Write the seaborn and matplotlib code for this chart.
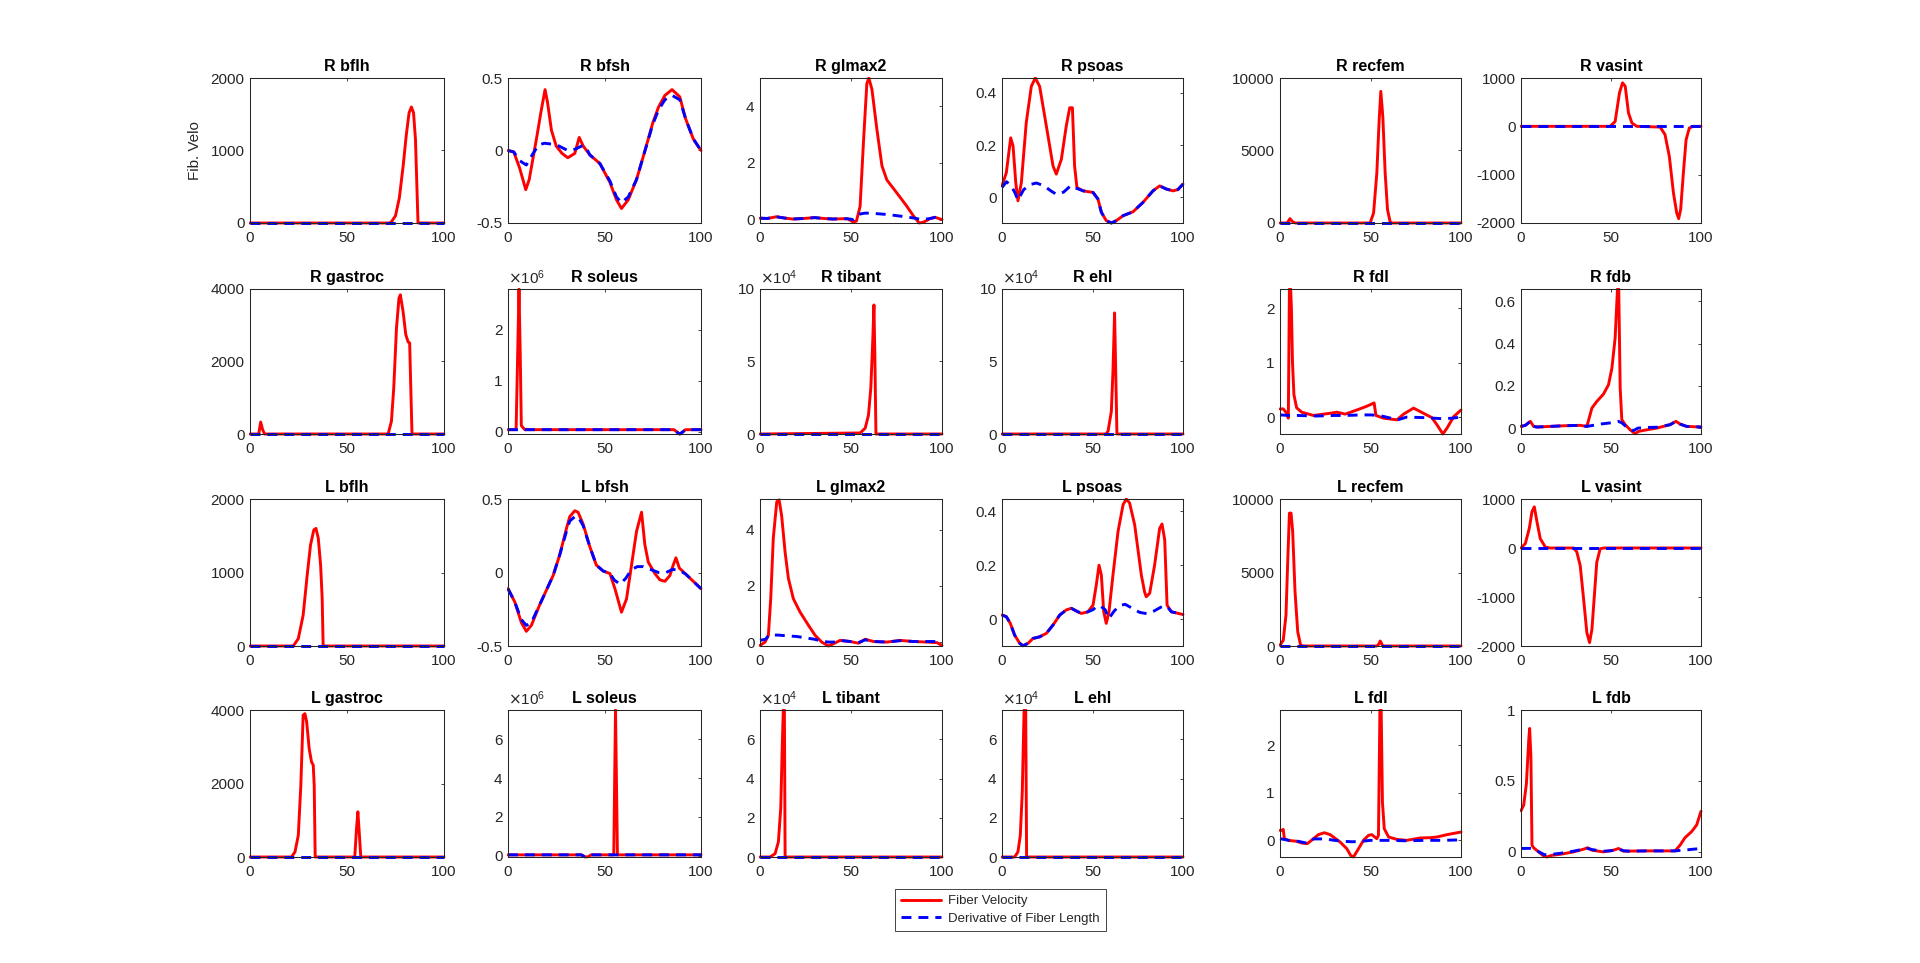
import matplotlib
matplotlib.use("Agg")
import matplotlib.pyplot as plt
import seaborn as sns
from matplotlib.ticker import FuncFormatter
from matplotlib.transforms import Bbox

# ---------------- data ----------------
titles = ["R bflh", "R bfsh", "R glmax2", "R psoas", "R recfem", "R vasint",
          "R gastroc", "R soleus", "R tibant", "R ehl", "R fdl", "R fdb",
          "L bflh", "L bfsh", "L glmax2", "L psoas", "L recfem", "L vasint",
          "L gastroc", "L soleus", "L tibant", "L ehl", "L fdl", "L fdb"]
legend_labels = ["Fiber Velocity", "Derivative of Fiber Length"]
x_ticks = [0, 50, 100]

zero_x = [0, 100]
zero_y = [0, 0]

r_bflh_vx = [0, 72, 73, 75, 77, 79, 80.5, 82, 83.2, 84.3, 85.3, 86.6, 100]
r_bflh_v = [0, 0, 20, 100, 350, 800, 1200, 1520, 1600, 1520, 1150, 0, 0]

r_bfsh_vx = [0, 3, 6, 9.2, 11, 13, 15, 17, 19.2, 20.5, 22.5, 25, 28, 31, 34.6, 36.9, 39, 42.4,
             47.6, 52.8, 56.2, 58.8, 62.3, 66.6, 71, 75, 78, 81.3, 85, 89, 92, 96, 100]
r_bfsh_v = [0, -0.01, -0.12, -0.27, -0.2, -0.05, 0.1, 0.26, 0.42, 0.33, 0.14, 0.03, -0.02, -0.05,
            -0.02, 0.09, 0.03, -0.03, -0.09, -0.22, -0.34, -0.40, -0.34, -0.2, 0.0, 0.19, 0.3,
            0.38, 0.42, 0.37, 0.22, 0.08, 0.0]
r_bfsh_dx = [0, 3, 6, 9.5, 13, 16, 19, 25, 31, 35, 38, 40, 42.4, 47.6, 52.8, 56.2, 58.8, 62.3,
             66.6, 71, 75, 78, 81.3, 85, 89, 92, 96, 100]
r_bfsh_d = [0, -0.01, -0.07, -0.10, -0.02, 0.04, 0.05, 0.04, 0.0, 0.01, 0.03, 0.03, -0.03, -0.09,
            -0.21, -0.32, -0.36, -0.32, -0.2, 0.0, 0.18, 0.28, 0.35, 0.38, 0.35, 0.22, 0.08, 0.0]

r_glmax2_vx = [0, 4, 9, 14, 18, 24, 30, 35, 40, 45, 48, 51.4, 53, 55, 56.9, 58.7, 59.8, 61.5,
               64.2, 67, 69.7, 75.2, 80.7, 84.4, 87.5, 89.9, 93.6, 96.3, 100]
r_glmax2_v = [0.05, 0.04, 0.1, 0.05, 0.02, 0.04, 0.07, 0.04, 0.02, 0.03, 0.03, -0.09, -0.05, 0.47,
              2.8, 4.8, 5.0, 4.6, 3.2, 1.9, 1.4, 0.94, 0.47, 0.12, -0.12, -0.09, 0.04, 0.08, 0.0]
r_glmax2_dx = [0, 4, 9, 14, 18, 24, 30, 35, 40, 45, 48, 51.4, 55, 58, 62, 66, 70, 75, 80, 85,
               89, 93.6, 96.3, 100]
r_glmax2_d = [0.05, 0.04, 0.1, 0.05, 0.02, 0.04, 0.07, 0.04, 0.02, 0.03, 0.03, 0.0, 0.2, 0.23,
              0.22, 0.2, 0.18, 0.14, 0.1, 0.05, 0.0, 0.04, 0.08, 0.03]

r_psoas_vx = [0, 2.4, 4.8, 6.1, 7.6, 8.8, 10.7, 13.4, 16.2, 18.4, 20.8, 24.5, 28.2, 30, 32.8,
              35.5, 37.4, 38.9, 40.1, 41.4, 44.8, 50.3, 53, 54.9, 57.6, 60.4, 63.2, 66.9, 72.4,
              77.9, 83.4, 87.1, 90.8, 94.5, 97.2, 100]
r_psoas_v = [0.044, 0.095, 0.228, 0.197, 0.057, -0.013, 0.057, 0.286, 0.425, 0.457, 0.425, 0.273,
             0.12, 0.089, 0.146, 0.273, 0.343, 0.343, 0.12, 0.038, 0.025, 0.019, -0.006, -0.057,
             -0.089, -0.098, -0.089, -0.07, -0.055, -0.019, 0.025, 0.044, 0.032, 0.025, 0.03, 0.051]
r_psoas_dx = [0, 2.5, 5, 7, 8.8, 12, 16, 19, 23, 27, 30, 34, 38, 41, 43, 44.8, 50.3, 53, 54.9,
              57.6, 60.4, 63.2, 66.9, 72.4, 77.9, 83.4, 87.1, 90.8, 94.5, 97.2, 100]
r_psoas_d = [0.038, 0.06, 0.045, 0.02, -0.01, 0.03, 0.05, 0.055, 0.045, 0.025, 0.012, 0.02, 0.045,
             0.035, 0.03, 0.025, 0.019, -0.006, -0.057, -0.089, -0.098, -0.089, -0.07, -0.055,
             -0.019, 0.025, 0.044, 0.032, 0.025, 0.03, 0.051]

r_recfem_vx = [0, 4, 5.5, 7, 8.5, 49.8, 51.7, 53.5, 54.8, 55.7, 56.8, 58.1, 59.4, 60.9, 62, 100]
r_recfem_v = [0, 0, 300, 80, 0, 0, 690, 3450, 7130, 9080, 7360, 3450, 920, 50, 0, 0]

r_vasint_vx = [0, 49.5, 52.3, 54.7, 56.4, 57.9, 59.7, 61.6, 64.3, 77.3, 80, 82.4, 84.7, 86.5,
               87.6, 88.7, 90.2, 91.7, 93.5, 95.7, 100]
r_vasint_v = [0, 0, 100, 690, 900, 830, 280, 70, 0, -15, -170, -620, -1380, -1790, -1910, -1720,
              -970, -280, -35, 0, 0]

r_gastroc_vx = [0, 4.5, 5.5, 6.5, 7.5, 71.2, 72.9, 74.1, 75.5, 76.8, 77.5, 78.9, 80.3, 81.5,
                82.3, 82.8, 83.5, 100]
r_gastroc_v = [0, 0, 330, 120, 0, 0, 350, 1270, 2920, 3750, 3840, 3380, 2740, 2540, 2510, 1450,
               0, 0]

r_soleus_vx = [0, 4.2, 5.0, 5.7, 6.3, 6.9, 8.7, 86, 88, 89, 90, 92, 100]
r_soleus_v = [40000, 40000, 1500000, 2800000, 1600000, 120000, 40000, 40000, -20000, -45000,
              -20000, 40000, 40000]
r_soleus_dx = [0, 86, 88, 89, 90, 92, 100]
r_soleus_d = [40000, 40000, -20000, -45000, -20000, 40000, 40000]

r_tibant_vx = [0, 55, 57.8, 59.6, 60.9, 62, 62.6, 63.1, 63.7, 100]
r_tibant_v = [0, 700, 4000, 13000, 32000, 66000, 89000, 55000, 0, 0]

r_ehl_vx = [0, 57.5, 58.6, 60.4, 61.3, 62.2, 63, 63.5, 100]
r_ehl_v = [0, 0, 2000, 15500, 43000, 83500, 32000, 0, 0]

r_fdl_vx = [0, 1.8, 3.7, 4.6, 5.2, 5.9, 6.3, 6.9, 7.7, 9.2, 12, 18.5, 27.7, 31.4, 36, 42.4, 48,
            52, 53, 57.2, 64.6, 68.3, 73.8, 79.3, 83.9, 86.7, 90, 92.3, 96, 100]
r_fdl_v = [0.15, 0.15, 0.07, -0.02, 2.35, 2.35, 2.0, 1.0, 0.41, 0.17, 0.09, 0.03, 0.07, 0.09,
           0.055, 0.13, 0.2, 0.26, 0.03, -0.02, -0.05, 0.055, 0.165, 0.07, -0.01, -0.14, -0.31,
           -0.2, 0.01, 0.13]
r_fdl_dx = [0, 5, 10, 20, 30, 36, 45, 50, 55, 60, 65, 70, 80, 85, 90, 95, 100]
r_fdl_d = [0.04, 0.03, 0.03, 0.02, 0.03, 0.03, 0.04, 0.04, 0.03, -0.01, -0.05, 0.0, -0.01,
           -0.02, -0.03, -0.02, 0.0]

r_fdb_vx = [0, 2.4, 5.2, 7, 8.9, 23.7, 32.9, 36.6, 39.4, 42.1, 45.8, 48.6, 50.5, 52.3, 53.6,
            54.3, 55.1, 56, 57.9, 60.6, 63.4, 65.2, 68, 75.4, 82.8, 86.1, 88.4, 92, 100]
r_fdb_v = [0.008, 0.013, 0.032, 0.008, 0.005, 0.011, 0.013, 0.008, 0.095, 0.126, 0.161, 0.205,
           0.284, 0.427, 0.659, 0.659, 0.19, 0.04, 0.016, -0.008, -0.027, -0.016, -0.011, 0.0,
           0.016, 0.032, 0.019, 0.008, 0.005]
r_fdb_dx = [0, 2.4, 5.2, 7, 8.9, 23.7, 32.9, 36.6, 45, 50, 54, 56, 58, 60.6, 62.5, 65, 70, 75.4,
            82.8, 86.1, 88.4, 92, 100]
r_fdb_d = [0.008, 0.013, 0.032, 0.008, 0.005, 0.011, 0.013, 0.008, 0.02, 0.025, 0.032, 0.025,
           0.01, -0.005, -0.012, 0.0, 0.003, 0.004, 0.016, 0.032, 0.019, 0.008, 0.005]

l_bflh_vx = [0, 22.3, 24.9, 27.4, 29.5, 31.2, 32.9, 34, 35.2, 36.4, 37.2, 37.7, 100]
l_bflh_v = [0, 0, 100, 420, 970, 1375, 1580, 1600, 1465, 1100, 650, 0, 0]

l_bfsh_vx = [0, 3.5, 6.9, 9.5, 12.1, 16.4, 23.4, 26.8, 30.3, 32, 34.6, 36.3, 38.9, 42.4, 45.8,
             49.3, 52.8, 55.4, 58.8, 61.4, 64, 66.6, 69.2, 70.9, 72.7, 76.1, 78.7, 81.3, 83.9,
             85.6, 87, 88.8, 92, 96, 100]
l_bfsh_v = [-0.11, -0.2, -0.34, -0.4, -0.36, -0.22, -0.02, 0.12, 0.3, 0.38, 0.42, 0.41, 0.33,
            0.175, 0.05, 0.01, -0.007, -0.11, -0.27, -0.18, 0.05, 0.28, 0.41, 0.19, 0.07, -0.007,
            -0.05, -0.06, -0.02, 0.05, 0.1, 0.03, -0.01, -0.06, -0.11]
l_bfsh_dx = [0, 3.5, 6.9, 9.5, 12.1, 16.4, 23.4, 26.8, 30.3, 32, 34.6, 36.3, 38.9, 42.4, 45.8,
             49.3, 52.8, 55, 58, 61, 64, 67, 70, 74, 78, 82, 85, 88, 92, 96, 100]
l_bfsh_d = [-0.11, -0.2, -0.32, -0.36, -0.34, -0.22, -0.02, 0.12, 0.28, 0.35, 0.38, 0.38, 0.32,
            0.175, 0.05, 0.01, -0.005, -0.05, -0.08, -0.04, 0.02, 0.04, 0.04, 0.02, 0.0, 0.0,
            0.02, 0.02, -0.01, -0.06, -0.11]

l_glmax2_vx = [0, 2.8, 4.6, 5.9, 7.3, 9.2, 10.5, 11.9, 13.8, 15.6, 18.3, 22, 26.6, 30.3, 33.9,
               37.6, 40.4, 44, 49.5, 54.1, 57.8, 62.4, 69.7, 77, 84.4, 91.7, 97.2, 100]
l_glmax2_v = [-0.12, 0.0, 0.24, 1.55, 3.7, 5.0, 5.07, 4.5, 3.2, 2.27, 1.55, 1.07, 0.6, 0.24, 0.0,
              -0.14, -0.06, 0.06, 0.02, -0.04, 0.1, 0.02, 0.0, 0.06, 0.02, 0.0, -0.02, -0.12]
l_glmax2_dx = [0, 3, 5, 10, 15, 20, 25, 30, 34, 37.6, 40.4, 44, 49.5, 54.1, 57.8, 62.4, 69.7, 77,
               84.4, 91.7, 97.2, 100]
l_glmax2_d = [0.06, 0.1, 0.25, 0.25, 0.22, 0.2, 0.15, 0.1, 0.03, 0.0, 0.0, 0.06, 0.02, -0.02,
              0.08, 0.02, 0.0, 0.05, 0.02, 0.02, 0.02, 0.05]

l_psoas_vx = [0, 2.4, 4.6, 7, 9.8, 11.6, 14.4, 17.1, 20.8, 24.5, 28.2, 31.9, 35.5, 38.3, 41.1,
              43.8, 47.5, 50.3, 52.1, 53.6, 54.9, 56.2, 57.6, 59.1, 61.3, 64.1, 66.9, 68.7, 70.5,
              73.3, 77, 78.8, 79.7, 81.6, 84.3, 87.1, 88.4, 89.9, 91.2, 93.6, 100]
l_psoas_v = [0.015, 0.009, -0.016, -0.06, -0.09, -0.099, -0.09, -0.072, -0.066, -0.053, -0.022,
             0.015, 0.034, 0.04, 0.03, 0.021, 0.027, 0.052, 0.127, 0.2, 0.163, 0.027, -0.016,
             0.027, 0.163, 0.325, 0.425, 0.446, 0.431, 0.35, 0.163, 0.1, 0.083, 0.096, 0.2, 0.337,
             0.353, 0.294, 0.052, 0.027, 0.017]
l_psoas_dx = [0, 2.4, 4.6, 7, 9.8, 11.6, 14.4, 17.1, 20.8, 24.5, 28.2, 31.9, 35.5, 38.3, 41.1,
              43.8, 47.5, 50.3, 52, 54, 57, 59, 62, 65, 68, 72, 76, 80, 84, 88, 90, 92, 93.6, 100]
l_psoas_d = [0.015, 0.009, -0.016, -0.06, -0.09, -0.099, -0.09, -0.072, -0.066, -0.053, -0.022,
             0.015, 0.034, 0.04, 0.03, 0.021, 0.027, 0.035, 0.045, 0.05, 0.035, 0.002, 0.03, 0.05,
             0.055, 0.04, 0.025, 0.02, 0.03, 0.045, 0.05, 0.04, 0.027, 0.017]

l_recfem_vx = [0, 1.8, 3.3, 4.2, 5.2, 6.1, 7, 8.3, 9.8, 11.4, 13, 53.5, 54.4, 55.4, 56.8, 100]
l_recfem_v = [50, 390, 2100, 5500, 9040, 9040, 7800, 3700, 960, 50, 0, 0, 100, 340, 0, 0]

l_vasint_vx = [0, 2.4, 4.6, 6.1, 7.4, 8.9, 10.7, 13.5, 16, 29.2, 31, 32.9, 34.8, 36.6, 38.1,
               39.4, 40.9, 42.1, 44, 46, 100]
l_vasint_v = [0, 90, 400, 740, 840, 530, 190, 20, 0, 0, -80, -360, -1050, -1730, -1930, -1660,
              -900, -290, -15, 0, 0]

l_gastroc_vx = [0, 21.4, 23.2, 24.9, 26.2, 27.4, 28.3, 29.2, 30.5, 31.7, 32.6, 33.1, 33.6, 54,
                54.9, 55.6, 56.3, 57.1, 100]
l_gastroc_v = [0, 0, 140, 590, 1950, 3860, 3900, 3680, 2950, 2590, 2500, 1950, 0, 0, 770, 1230,
               680, 0, 0]

l_soleus_vx = [0, 38, 39.8, 41.5, 43, 54.8, 55.7, 56.7, 58, 100]
l_soleus_v = [50000, 50000, -50000, -50000, 50000, 50000, 7500000, 50000, 50000, 50000]
l_soleus_dx = [0, 38, 39.8, 41.5, 43, 100]
l_soleus_d = [50000, 50000, -50000, -50000, 50000, 50000]

l_tibant_vx = [0, 5.5, 8.3, 10.1, 11.4, 12.3, 12.8, 13.4, 13.8, 100]
l_tibant_v = [0, 0, 1700, 7700, 25000, 59000, 75000, 75000, 0, 0]

l_ehl_vx = [0, 7, 8.8, 10.1, 11.2, 12.2, 13.1, 13.6, 100]
l_ehl_v = [0, 0, 2600, 11000, 33000, 75000, 75000, 0, 0]

l_fdl_vx = [0, 0.9, 1.8, 2.4, 4.6, 9.2, 12, 15.1, 18.5, 21.2, 24.5, 27.7, 33.2, 36.9, 39.1, 40.6,
            43.4, 46.1, 48.9, 50.7, 53.5, 54.4, 55.2, 55.9, 56.6, 57.6, 60, 64.6, 70.1, 77.5, 83,
            86.7, 92.3, 100]
l_fdl_v = [0.21, 0.21, 0.23, 0.035, 0.0, -0.02, -0.056, -0.07, 0.035, 0.12, 0.16, 0.12, -0.035,
           -0.175, -0.32, -0.35, -0.175, 0.0, 0.105, 0.12, 0.035, 0.105, 2.74, 2.74, 0.8, 0.245,
           0.07, 0.02, 0.0, 0.05, 0.056, 0.07, 0.12, 0.175]
l_fdl_dx = [0, 5, 10, 15, 18.5, 25, 30, 35, 40, 45, 50, 55, 60, 70, 80, 90, 100]
l_fdl_d = [0.035, 0.0, -0.02, -0.06, 0.03, 0.03, 0.0, -0.02, -0.03, -0.02, 0.0, 0.0, 0.0, -0.01,
           0.0, 0.0, 0.01]

l_fdb_vx = [0, 1.5, 3, 4.3, 4.8, 5.5, 6.1, 7, 9.8, 12.6, 14.4, 17.2, 21.8, 29.2, 34.8, 37, 39.4,
            45.8, 51.4, 54.2, 56.9, 69.9, 85.6, 88.4, 91.1, 94.8, 97.6, 100]
l_fdb_v = [0.29, 0.33, 0.48, 0.79, 0.87, 0.67, 0.048, 0.029, 0.0, -0.029, -0.036, -0.024, -0.017,
           0.0, 0.019, 0.029, 0.012, 0.0, 0.012, 0.024, 0.005, 0.007, 0.007, 0.048, 0.1, 0.143,
           0.19, 0.286]
l_fdb_dx = [0, 5, 7, 10, 13, 17.2, 21.8, 29.2, 34.8, 37, 40, 45.8, 50, 54.2, 57, 60, 70, 85.6,
            90, 100]
l_fdb_d = [0.024, 0.025, 0.02, 0.0, -0.02, -0.017, -0.01, 0.005, 0.02, 0.024, 0.015, 0.005, 0.008,
           0.02, 0.008, 0.005, 0.007, 0.007, 0.012, 0.024]

y_limits = [(0, 2000), (-0.5, 0.5), (-0.12, 5.0), (-0.098, 0.457), (0, 10000), (-2000, 1000),
            (0, 4000), (-45000, 2800000), (0, 100000), (0, 100000), (-0.31, 2.35), (-0.028, 0.659),
            (0, 2000), (-0.5, 0.5), (-0.14, 5.1), (-0.1, 0.446), (0, 10000), (-2000, 1000),
            (0, 4000), (-60000, 7500000), (0, 75000), (0, 75000), (-0.35, 2.74), (-0.036, 1.0)]
y_ticks = [[0, 1000, 2000], [-0.5, 0, 0.5], [0, 2, 4], [0, 0.2, 0.4], [0, 5000, 10000],
           [-2000, -1000, 0, 1000],
           [0, 2000, 4000], [0, 1e6, 2e6], [0, 5e4, 1e5], [0, 5e4, 1e5], [0, 1, 2], [0, 0.2, 0.4, 0.6],
           [0, 1000, 2000], [-0.5, 0, 0.5], [0, 2, 4], [0, 0.2, 0.4], [0, 5000, 10000],
           [-2000, -1000, 0, 1000],
           [0, 2000, 4000], [0, 2e6, 4e6, 6e6], [0, 2e4, 4e4, 6e4], [0, 2e4, 4e4, 6e4], [0, 1, 2],
           [0, 0.5, 1]]
y_exponent = [0, 0, 0, 0, 0, 0, 0, 6, 4, 4, 0, 0, 0, 0, 0, 0, 0, 0, 0, 6, 4, 4, 0, 0]

vel_series = [(r_bflh_vx, r_bflh_v), (r_bfsh_vx, r_bfsh_v), (r_glmax2_vx, r_glmax2_v),
              (r_psoas_vx, r_psoas_v), (r_recfem_vx, r_recfem_v), (r_vasint_vx, r_vasint_v),
              (r_gastroc_vx, r_gastroc_v), (r_soleus_vx, r_soleus_v), (r_tibant_vx, r_tibant_v),
              (r_ehl_vx, r_ehl_v), (r_fdl_vx, r_fdl_v), (r_fdb_vx, r_fdb_v),
              (l_bflh_vx, l_bflh_v), (l_bfsh_vx, l_bfsh_v), (l_glmax2_vx, l_glmax2_v),
              (l_psoas_vx, l_psoas_v), (l_recfem_vx, l_recfem_v), (l_vasint_vx, l_vasint_v),
              (l_gastroc_vx, l_gastroc_v), (l_soleus_vx, l_soleus_v), (l_tibant_vx, l_tibant_v),
              (l_ehl_vx, l_ehl_v), (l_fdl_vx, l_fdl_v), (l_fdb_vx, l_fdb_v)]
der_series = [(zero_x, zero_y), (r_bfsh_dx, r_bfsh_d), (r_glmax2_dx, r_glmax2_d),
              (r_psoas_dx, r_psoas_d), (zero_x, zero_y), (zero_x, zero_y),
              (zero_x, zero_y), (r_soleus_dx, r_soleus_d), (zero_x, zero_y),
              (zero_x, zero_y), (r_fdl_dx, r_fdl_d), (r_fdb_dx, r_fdb_d),
              (zero_x, zero_y), (l_bfsh_dx, l_bfsh_d), (l_glmax2_dx, l_glmax2_d),
              (l_psoas_dx, l_psoas_d), (zero_x, zero_y), (zero_x, zero_y),
              (zero_x, zero_y), (l_soleus_dx, l_soleus_d), (zero_x, zero_y),
              (zero_x, zero_y), (l_fdl_dx, l_fdl_d), (l_fdb_dx, l_fdb_d)]

# ---------------- layout ----------------
W, H = 1920, 963
col_edges = [(250, 444), (508, 701), (760, 942), (1002, 1183), (1280, 1461), (1521, 1701)]
row_edges = [(78, 223), (289, 434), (499, 646), (710, 857)]
TXT = "#262626"

sns.set_style("white")
plt.rcParams['font.family'] = ['Liberation Sans', 'DejaVu Sans']
plt.rcParams['axes.unicode_minus'] = False

fig = plt.figure(figsize=(W / 100, H / 100), dpi=100)
fig.patch.set_facecolor("white")


def fmt_plain(v, pos):
    return "%g" % v


axes = []
for i, title in enumerate(titles):
    r, c = divmod(i, 6)
    l, rr = col_edges[c]
    t, b = row_edges[r]
    ax = fig.add_axes([l / W, 1 - b / H, (rr - l) / W, (b - t) / H])
    axes.append(ax)
    vx, vy = vel_series[i]
    dx, dy = der_series[i]
    sns.lineplot(x=vx, y=vy, ax=ax, color=(1, 0, 0), linewidth=2.1,
                 estimator=None, sort=False, errorbar=None)
    sns.lineplot(x=dx, y=dy, ax=ax, color=(0, 0, 1), linewidth=2.1,
                 estimator=None, sort=False, errorbar=None)
    ax.lines[-1].set_linestyle((0, (3.4, 2.4)))
    ax.set_xlim(0, 100)
    ax.set_ylim(*y_limits[i])
    ax.set_xticks(x_ticks)
    ax.set_yticks(y_ticks[i])
    e = y_exponent[i]
    if e:
        ax.yaxis.set_major_formatter(FuncFormatter(lambda v, p, e=e: "%g" % (v / 10 ** e)))
        ax.text(0.0, 1.012, r"$\times\mathregular{10^{%d}}$" % e, transform=ax.transAxes,
                ha="left", va="bottom", fontsize=11, color=TXT)
    else:
        ax.yaxis.set_major_formatter(FuncFormatter(fmt_plain))
    ax.xaxis.set_major_formatter(FuncFormatter(fmt_plain))
    ax.set_xlabel("")
    ax.set_ylabel("")
    ax.tick_params(direction="in", length=2.5, width=0.6, colors=TXT, labelsize=11,
                   top=True, right=True, labelcolor=TXT)
    ax.tick_params(axis="x", pad=6)
    ax.tick_params(axis="y", pad=4)
    for s in ax.spines.values():
        s.set_color(TXT)
        s.set_linewidth(0.75)
        s.set_visible(True)
    ax.set_title(title, fontsize=11.5, fontweight="bold", color="black", pad=5)
    # clip like MATLAB: data clipped at the limits but line width may overhang the box
    clip = Bbox.from_extents(l - 1.5, H - b - 1.5, rr + 1.5, H - t + 1.5)
    for ln in ax.lines:
        ln.set_clip_box(clip)

axes[0].set_ylabel("Fib. Velo", fontsize=11, color=TXT, labelpad=6)

handles = [axes[0].lines[0], axes[0].lines[1]]
leg = fig.legend(handles, legend_labels, loc="upper left",
                 bbox_to_anchor=(895 / W, 1 - 889 / H), fontsize=9.5, frameon=True,
                 fancybox=False, edgecolor=TXT, framealpha=1, borderpad=0.45,
                 borderaxespad=0, handlelength=3.0, handletextpad=0.6, labelspacing=0.4)
leg.get_frame().set_linewidth(0.6)

fig.savefig("out.png", dpi=100, facecolor="white")
